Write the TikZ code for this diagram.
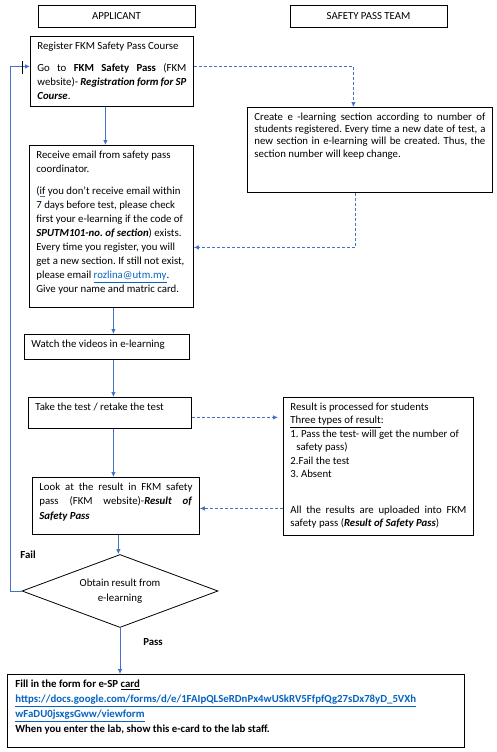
\documentclass[tikz,border=0pt]{standalone}
\usepackage{fontspec}
\setmainfont{Carlito}
\usepackage{tikz}
\usetikzlibrary{shapes.geometric}
\usetikzlibrary{arrows.meta}
\usepackage{xcolor}
\definecolor{flowblue}{RGB}{68,114,196}
\definecolor{linkblue}{RGB}{5,99,193}
\newcommand{\boxtext}[3]{\parbox[c][#2][t]{#1}{\frenchspacing #3}}

\begin{document}
\begin{tikzpicture}[x=1pt,y=-1pt,
  stepbox/.style={draw,line width=0.8pt,anchor=north west,inner xsep=7pt,inner ysep=5.5pt,font=\fontsize{10.8}{14}\selectfont},
  headbox/.style={draw,line width=0.8pt,minimum width=157pt,minimum height=22pt,inner sep=0pt,font=\fontsize{10.8}{13}\selectfont},
  flow/.style={->,flowblue,line width=0.75pt},
  flowdash/.style={flow,dash pattern=on 3pt off 2pt},
  >={Latex[length=5pt,width=4.5pt]}]
 \useasboundingbox (0,0) rectangle (496,752);

 \node[headbox] (applicant) at (116.5,16) {APPLICANT};
 \node[headbox] (team) at (368.5,16) {SAFETY PASS TEAM};

 \node[stepbox] (register) at (30,36) {\boxtext{149pt}{59pt}{Register FKM Safety Pass Course\par\vspace{8pt}Go to \textbf{FKM Safety Pass} (FKM\linebreak website)- \textbf{\textit{Registration form for SP}}\linebreak \textbf{\textit{Course}}.}};
 \node[stepbox] (receive) at (29,145) {\boxtext{150pt}{151pt}{\raggedright Receive email from safety pass\\ coordinator.\par\vspace{8.5pt}({\color{flowblue}\underline{\color{black}if}} you don't receive email within\\ 7 days before test, please check\\ first your e-learning if the code of\\ \textbf{\textit{SPUTM101-no. of section}}) exists.\\ Every time you register, you will\\ get a new section. If still not exist,\\ please email {\color{linkblue}\underline{rozlina@utm.my}}.\\ Give your name and matric card.}};
 \node[stepbox,font=\fontsize{10.8}{12.3}\selectfont] (create) at (247,107) {\boxtext{231pt}{74pt}{Create e -learning section according to number of\linebreak students registered. Every time a new date of test, a\linebreak new section in e-learning will be created. Thus, the\linebreak section number will keep change.}};
 \node[stepbox] (watch) at (24,334) {\boxtext{151pt}{14pt}{Watch the videos in e-learning}};
 \node[stepbox] (take) at (28,397) {\boxtext{149pt}{20pt}{Take the test / retake the test}};
 \node[stepbox,font=\fontsize{10.8}{13.5}\selectfont] (result) at (283,397) {\boxtext{176pt}{127pt}{{\raggedright Result is processed for students\\ \underline{Three types of result}:\\ 1. Pass the test- will get the number of\\ \hspace*{6pt}safety pass)\\ 2.Fail the test\\ 3. Absent\par}\vspace{22pt}All the results are uploaded into FKM\linebreak safety pass (\textbf{\textit{Result of Safety Pass}})}};
 \node[stepbox,font=\fontsize{10.8}{14.5}\selectfont] (look) at (32,477) {\boxtext{153pt}{46pt}{Look at the result in FKM safety\linebreak pass (FKM website)-\textbf{\textit{Result of}}\linebreak \textbf{\textit{Safety Pass}}}};
 \node[draw,diamond,line width=0.8pt,minimum width=196pt,minimum height=73pt,inner sep=0pt,aspect=2.7,align=center,font=\fontsize{10.8}{15}\selectfont] (obtain) at (120,591) {Obtain result from\\ e-learning};
 \node[stepbox,font=\bfseries\fontsize{10.8}{15}\selectfont,inner xsep=8pt] (card) at (7,674) {\boxtext{441pt}{62pt}{\raggedright Fill in the form for e-SP \underline{card}\\ {\color{linkblue}\underline{https://docs.google.com/forms/d/e/1FAIpQLSeRDnPx4wUSkRV5FfpfQg27sDx78yD\_5VXh}}\\ {\color{linkblue}\underline{wFaDU0jsxgsGww/viewform}}\\ When you enter the lab, show this e-card to the lab staff.}};

 \node[font=\bfseries\fontsize{10.8}{13}\selectfont] (fail) at (28,555) {Fail};
 \node[font=\bfseries\fontsize{10.8}{13}\selectfont] (pass) at (153,642) {Pass};

 % applicant flow
 \draw[flow] ([xshift=-6.5pt]register.south) -- ([xshift=-6.5pt]register.south |- receive.north);
 \draw[flow] ([xshift=2pt]receive.south) -- ([xshift=2pt]receive.south |- watch.north);
 \draw[flow] ([xshift=6.5pt]watch.south) -- ([xshift=6.5pt]watch.south |- take.north);
 \draw[flow] ([xshift=3.5pt]take.south) -- ([xshift=3.5pt]take.south |- look.north);
 \draw[flow] ([xshift=2.5pt]look.south) -- ([xshift=2.5pt]look.south |- obtain.north);
 \draw[flow] (obtain.south) -- (obtain.south |- card.north);
 \draw[flow] (obtain.west) -| ([xshift=-20pt,yshift=5pt]register.west) -- ([yshift=5pt]register.west);
 \draw[line width=0.6pt] ([xshift=-8pt,yshift=10pt]register.west) -- ([xshift=-8pt,yshift=-3pt]register.west);

 % safety pass team
 \draw[flowdash] ([yshift=5pt]register.east) -| ([xshift=-16.5pt]create.north);
 \draw[flowdash] ([xshift=-14.5pt]create.south) |- ([yshift=-21pt]receive.east);
 \draw[flowdash,shorten >=5pt] ([yshift=-4.5pt]take.east) -- ([yshift=-4.5pt]take.east -| result.west);
 \draw[flowdash] ([yshift=-42pt]result.west) -- ([yshift=-42pt]result.west -| look.east);
\end{tikzpicture}
\end{document}
